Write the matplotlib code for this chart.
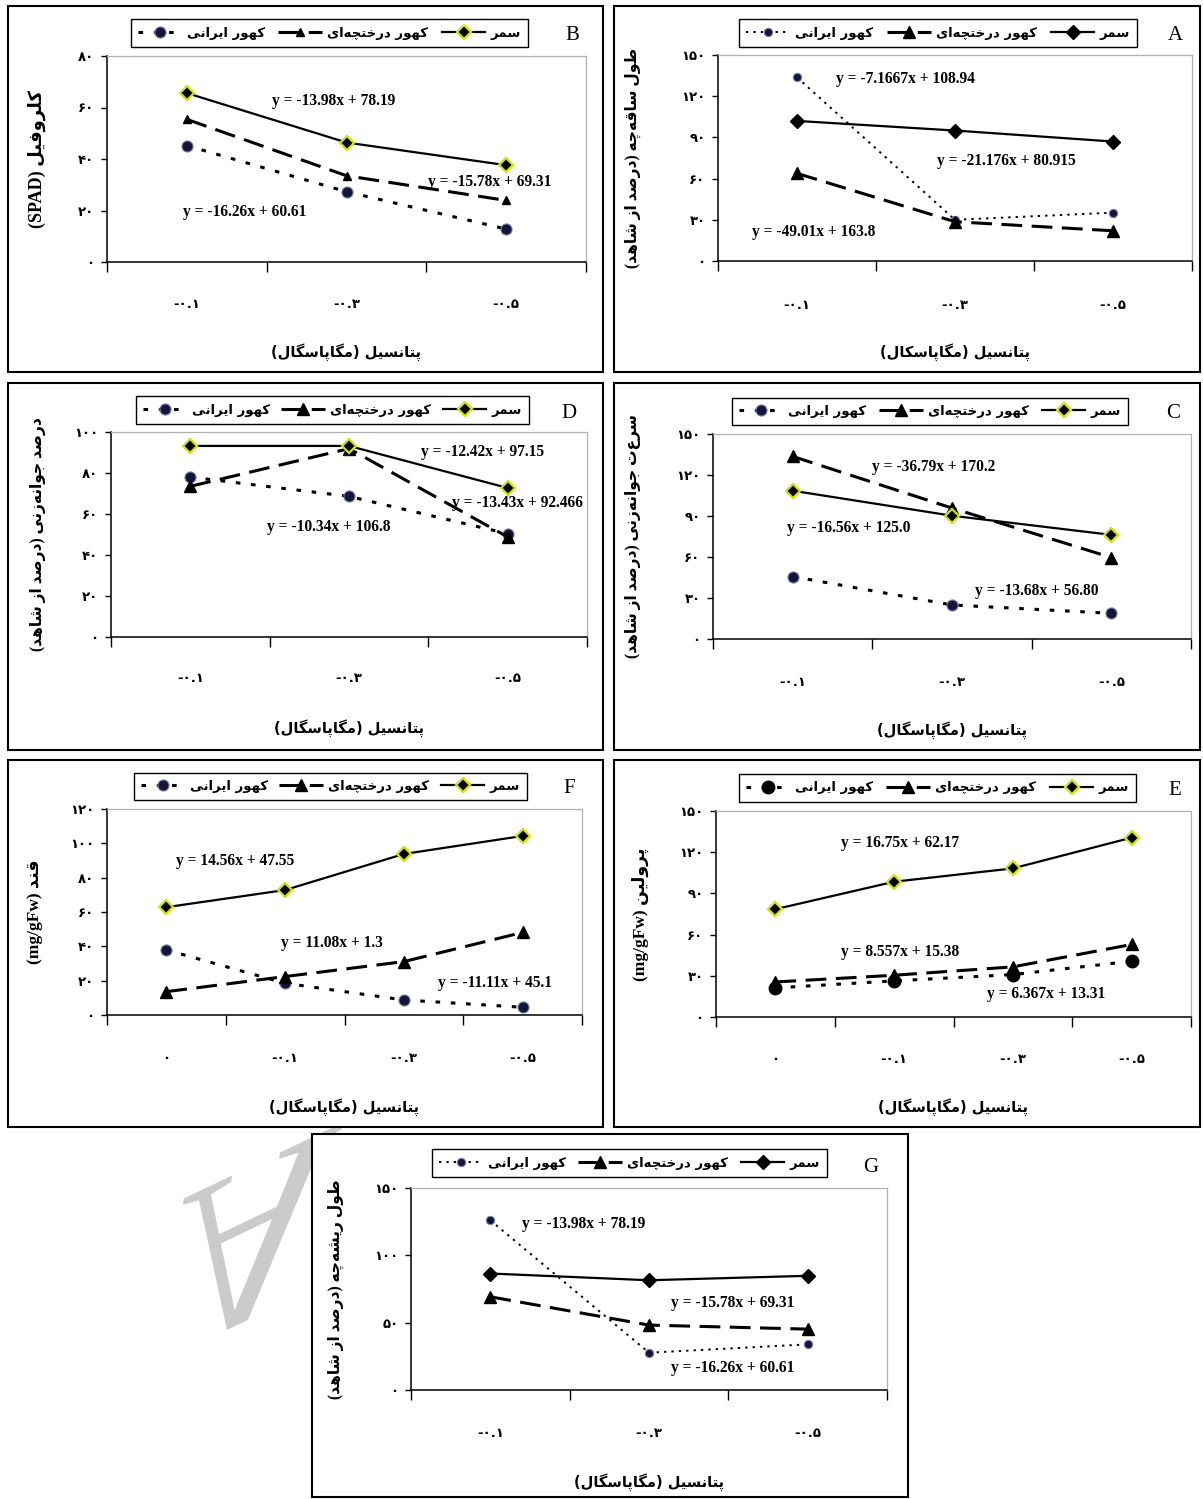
import numpy as np
import matplotlib
matplotlib.use('Agg')
import matplotlib.pyplot as plt
from matplotlib.patches import Rectangle, PathPatch
from matplotlib.textpath import TextPath
from matplotlib.font_manager import FontProperties
from matplotlib.transforms import Affine2D

W, H = 1203, 1499

# ---- data ----
x_labels_3 = ['-۰.۱', '-۰.۳', '-۰.۵']
x_labels_4 = ['۰', '-۰.۱', '-۰.۳', '-۰.۵']
series_names = ['کهور ایرانی', 'کهور درختچه‌ای', 'سمر']

a_irani = [133.7, 30.0, 35.2]
a_derakhtche = [63.8, 28.6, 22.0]
a_samar = [102.0, 95.0, 87.0]
a_yticks = [0, 30, 60, 90, 120, 150]
a_eqs = ['y = -7.1667x + 108.94', 'y = -21.176x + 80.915', 'y = -49.01x + 163.8']

b_irani = [45.2, 27.3, 12.8]
b_derakhtche = [55.4, 33.5, 23.9]
b_samar = [65.6, 46.4, 37.6]
b_yticks = [0, 20, 40, 60, 80]
b_eqs = ['y = -13.98x + 78.19', 'y = -15.78x + 69.31', 'y = -16.26x + 60.61']

c_irani = [45.7, 24.9, 18.8]
c_derakhtche = [133.6, 95.8, 59.6]
c_samar = [108.5, 90.2, 76.2]
c_yticks = [0, 30, 60, 90, 120, 150]
c_eqs = ['y = -36.79x + 170.2', 'y = -16.56x + 125.0', 'y = -13.68x + 56.80']

d_irani = [78.0, 68.6, 50.4]
d_derakhtche = [73.5, 91.9, 48.8]
d_samar = [93.2, 93.2, 72.7]
d_yticks = [0, 20, 40, 60, 80, 100]
d_eqs = ['y = -12.42x + 97.15', 'y = -13.43x + 92.466', 'y = -10.34x + 106.8']

e_irani = [21.2, 26.3, 30.9, 40.6]
e_derakhtche = [25.5, 30.4, 36.5, 52.8]
e_samar = [78.5, 98.5, 108.2, 130.6]
e_yticks = [0, 30, 60, 90, 120, 150]
e_eqs = ['y = 16.75x + 62.17', 'y = 8.557x + 15.38', 'y = 6.367x + 13.31']

f_irani = [37.9, 18.5, 8.75, 4.5]
f_derakhtche = [13.6, 22.4, 31.1, 48.1]
f_samar = [62.8, 72.8, 93.8, 104.3]
f_yticks = [0, 20, 40, 60, 80, 100, 120]
f_eqs = ['y = 14.56x + 47.55', 'y = 11.08x + 1.3', 'y = -11.11x + 45.1']

g_irani = [126.0, 27.7, 33.9]
g_derakhtche = [69.2, 48.2, 45.2]
g_samar = [86.5, 81.5, 84.8]
g_yticks = [0, 50, 100, 150]
g_eqs = ['y = -13.98x + 78.19', 'y = -15.78x + 69.31', 'y = -16.26x + 60.61']

# ---- minimal persian shaping (matplotlib has no bidi / joining) ----
FORMS = {
    'ا': (0xFE8D, 0xFE8E), 'ب': (0xFE8F, 0xFE90, 0xFE91, 0xFE92),
    'پ': (0xFB56, 0xFB57, 0xFB58, 0xFB59), 'ت': (0xFE95, 0xFE96, 0xFE97, 0xFE98),
    'ج': (0xFE9D, 0xFE9E, 0xFE9F, 0xFEA0), 'چ': (0xFB7A, 0xFB7B, 0xFB7C, 0xFB7D),
    'خ': (0xFEA5, 0xFEA6, 0xFEA7, 0xFEA8), 'د': (0xFEA9, 0xFEAA),
    'ر': (0xFEAD, 0xFEAE), 'ز': (0xFEAF, 0xFEB0),
    'س': (0xFEB1, 0xFEB2, 0xFEB3, 0xFEB4), 'ش': (0xFEB5, 0xFEB6, 0xFEB7, 0xFEB8),
    'ص': (0xFEB9, 0xFEBA, 0xFEBB, 0xFEBC), 'ط': (0xFEC1, 0xFEC2, 0xFEC3, 0xFEC4),
    'ف': (0xFED1, 0xFED2, 0xFED3, 0xFED4), 'ق': (0xFED5, 0xFED6, 0xFED7, 0xFED8),
    'ک': (0xFB8E, 0xFB8F, 0xFB90, 0xFB91), 'گ': (0xFB92, 0xFB93, 0xFB94, 0xFB95),
    'ل': (0xFEDD, 0xFEDE, 0xFEDF, 0xFEE0), 'م': (0xFEE1, 0xFEE2, 0xFEE3, 0xFEE4),
    'ن': (0xFEE5, 0xFEE6, 0xFEE7, 0xFEE8), 'و': (0xFEED, 0xFEEE),
    'ه': (0xFEE9, 0xFEEA, 0xFEEB, 0xFEEC), 'ی': (0xFBFC, 0xFBFD, 0xFBFE, 0xFBFF),
}


def fa(text):
    out = []
    for i, ch in enumerate(text):
        if ch not in FORMS:
            out.append(ch)
            continue
        forms = FORMS[ch]
        prev = text[i - 1] if i > 0 else ''
        nxt = text[i + 1] if i < len(text) - 1 else ''
        jp = prev in FORMS and len(FORMS[prev]) == 4
        jn = len(forms) == 4 and nxt in FORMS
        if jp and jn:
            out.append(chr(forms[3]))
        elif jp:
            out.append(chr(forms[1]))
        elif jn:
            out.append(chr(forms[2]))
        else:
            out.append(chr(forms[0]))
    s = ''.join(c for c in out if c != '\u200c')
    mirror = {'(': ')', ')': '('}
    return ''.join(mirror.get(c, c) for c in reversed(s))


def fa_num(v):
    return ''.join(chr(0x06F0 + int(d)) for d in str(v))


PERSIAN = ['DejaVu Sans']
MIXED = ['Liberation Serif', 'DejaVu Sans']

# line styles
irani_fine = dict(ls=(0, (1.2, 2.6)), lw=1.4, marker='o', ms=6, mfc='#15153a', mec='#8080b0', mew=0.8)
irani_dot = dict(ls=(0, (1.5, 3.5)), lw=2.2, marker='o', ms=8, mfc='#15153a', mec='#8080b0', mew=0.8)
irani_black = dict(ls=(0, (1.5, 3.5)), lw=2.2, marker='o', ms=9, mfc='black', mec='black')
der_big = dict(ls=(0, (6.8, 3.1)), lw=2.2, marker='^', ms=9, mfc='black', mec='black')
der_small = dict(ls=(0, (6.8, 3.1)), lw=2.2, marker='^', ms=6, mfc='black', mec='black')
samar_black = dict(ls='-', lw=1.6, marker='D', ms=7, mfc='black', mec='black')
samar_yel = dict(ls='-', lw=1.6, marker='D', ms=7.5, mfc='black', mec='#d0e600', mew=1.6)

fig = plt.figure(figsize=(W / 100, H / 100), dpi=100)

# faint (mirrored) watermark letter in the empty lower-left corner
wm = TextPath((0, 0), 'A', size=250, prop=FontProperties(family='Liberation Serif'))
R = np.array([[0.90, -0.143], [0.43, -0.99]])
apex = wm.vertices[wm.vertices[:, 1].argmax()]
shift = np.array([227, H - 1330]) - R @ apex
wm_tr = Affine2D.from_values(R[0, 0], R[1, 0], R[0, 1], R[1, 1], shift[0], shift[1])
fig.add_artist(PathPatch(wm, transform=wm_tr, facecolor='#cbcbcb', edgecolor='none', zorder=0.5))


def draw_panel(frame, box, leg, let_xy, ylab_x, xtick_y, xlab_y, letter, xlabels, series, styles,
               yticks, ylabel, ylab_size, xlabel, eqs, eq_xy):
    fl, ft, fr, fb = frame
    fig.patches.append(Rectangle((fl / W, 1 - fb / H), (fr - fl) / W, (fb - ft) / H,
                                 transform=fig.transFigure, facecolor='white', edgecolor='black',
                                 lw=1.5, zorder=1))
    l, t, r, b = box
    ax = fig.add_axes([l / W, 1 - b / H, (r - l) / W, (b - t) / H])
    ax.set_zorder(2)
    n = len(xlabels)
    xs = [i + 0.5 for i in range(n)]
    for name, ys, st in zip(series_names, series, styles):
        ax.plot(xs, ys, color='black', label=fa(name), clip_on=False, **st)
    ax.set_xlim(0, n)
    ax.set_ylim(yticks[0], yticks[-1])
    ax.set_yticks(yticks)
    ax.set_yticklabels([fa_num(v) for v in yticks], family=PERSIAN, fontweight='bold', fontsize=9.5)
    ax.set_xticks(range(n + 1))
    ax.set_xticklabels([])
    ax.set_xticks(xs, minor=True)
    ax.set_xticklabels(xlabels, minor=True, family=PERSIAN, fontweight='bold', fontsize=9.5)
    ax.tick_params(axis='x', which='major', length=7, width=1, direction='out')
    ax.tick_params(axis='x', which='minor', length=0, pad=(xtick_y - b - 7) / 1.389)
    ax.tick_params(axis='y', length=4, width=1, direction='out', pad=5)
    for s in ('top', 'right'):
        ax.spines[s].set_color('#b0b0b0')
        ax.spines[s].set_linewidth(0.9)
    for s in ('left', 'bottom'):
        ax.spines[s].set_linewidth(1.1)

    ll, lt, lr, lb = leg
    lg = ax.legend(loc='center', bbox_to_anchor=(ll / W, 1 - lb / H, (lr - ll) / W, (lb - lt) / H),
                   bbox_transform=fig.transFigure, mode='expand', ncol=3, handlelength=3.3,
                   handletextpad=0.4, borderpad=0.55, fancybox=False, framealpha=1,
                   edgecolor='black', prop=dict(family=PERSIAN, weight='bold', size=9.5))
    lg.get_frame().set_linewidth(1.0)

    for txt, (px, py) in zip(eqs, eq_xy):
        ax.text((px - l) / (r - l), (b - py) / (b - t), txt, transform=ax.transAxes,
                ha='center', va='center', family='Liberation Serif', fontweight='bold', fontsize=11.2)

    fig.text(let_xy[0] / W, 1 - let_xy[1] / H, letter, family='Liberation Serif', fontsize=15,
             ha='center', va='center', zorder=3)
    fig.text(ylab_x / W, 1 - (t + b) / 2 / H, ylabel, rotation=90, family=MIXED, fontweight='bold',
             fontsize=ylab_size, ha='center', va='center', zorder=3)
    fig.text((l + r) / 2 / W, 1 - xlab_y / H, xlabel, family=PERSIAN, fontweight='bold',
             fontsize=10.5, ha='center', va='center', zorder=3)
    return ax


xlab_kal = fa('پتانسیل (مگاپاسکال)')
xlab_gal = fa('پتانسیل (مگاپاسگال)')

draw_panel((614, 6, 1200, 372), (718, 55, 1192, 261), (732, 14, 1144, 52), (1175, 36), 633, 306, 352,
           'A', x_labels_3, [a_irani, a_derakhtche, a_samar], [irani_fine, der_big, samar_black],
           a_yticks, fa('طول ساقه‌چه (درصد از شاهد)'), 11.2, xlab_kal, a_eqs,
           [(905, 79), (1006, 161), (814, 232)])

draw_panel((8, 6, 603, 372), (107, 56, 586, 262), (124, 14, 535, 52), (572, 36), 37, 305, 352,
           'B', x_labels_3, [b_irani, b_derakhtche, b_samar], [irani_dot, der_small, samar_yel],
           b_yticks, '(SPAD) ' + fa('کلروفیل'), 13, xlab_gal, b_eqs,
           [(334, 101), (490, 182), (245, 212)])

draw_panel((614, 383, 1200, 750), (713, 434, 1191, 639), (725, 393, 1135, 430), (1173, 413), 633, 683, 730,
           'C', x_labels_3, [c_irani, c_derakhtche, c_samar], [irani_dot, der_big, samar_yel],
           c_yticks, fa('سرعت جوانه‌زنی (درصد از شاهد)'), 11.2, xlab_gal, c_eqs,
           [(934, 467), (849, 528), (1037, 591)])

draw_panel((8, 383, 603, 750), (111, 432, 587, 637), (129, 392, 536, 428), (569, 413), 38, 679, 728,
           'D', x_labels_3, [d_irani, d_derakhtche, d_samar], [irani_dot, der_big, samar_yel],
           d_yticks, fa('درصد جوانه‌زنی (درصد از شاهد)'), 11.2, xlab_gal, d_eqs,
           [(483, 452), (517, 503), (329, 527)])

draw_panel((614, 760, 1200, 1127), (716, 811, 1191, 1017), (732, 769, 1143, 807), (1175, 791), 640, 1060, 1107,
           'E', x_labels_4, [e_irani, e_derakhtche, e_samar], [irani_black, der_big, samar_yel],
           e_yticks, '(mg/gFw) ' + fa('پرولین'), 12.5, xlab_gal, e_eqs,
           [(900, 843), (900, 952), (1046, 994)])

draw_panel((8, 760, 603, 1127), (107, 809, 582, 1015), (127, 768, 534, 805), (569, 788), 35, 1059, 1107,
           'F', x_labels_4, [f_irani, f_derakhtche, f_samar], [irani_dot, der_big, samar_yel],
           f_yticks, '(mg/gFw) ' + fa('قند'), 12.5, xlab_gal, f_eqs,
           [(235, 861), (332, 943), (495, 983)])

draw_panel((312, 1134, 908, 1497), (411, 1188, 887, 1390), (425, 1144, 834, 1182), (871, 1167), 336, 1434, 1482,
           'G', x_labels_3, [g_irani, g_derakhtche, g_samar], [irani_fine, der_big, samar_black],
           g_yticks, fa('طول ریشه‌چه (درصد از شاهد)'), 11.2, xlab_gal, g_eqs,
           [(584, 1224), (733, 1303), (733, 1368)])

fig.savefig('out.png', dpi=100)
